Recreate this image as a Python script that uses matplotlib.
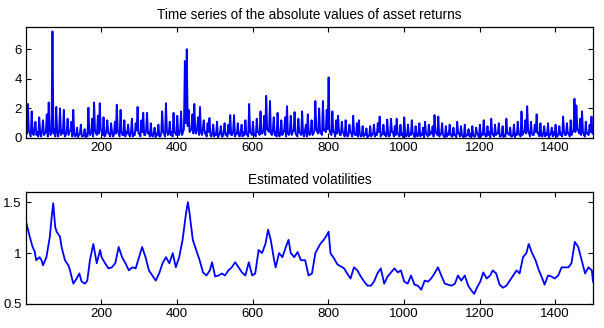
import numpy as np
import matplotlib
matplotlib.use("Agg")
import matplotlib.pyplot as plt

plt.rcParams['font.family'] = ['Liberation Sans', 'DejaVu Sans']

# absolute returns, one value every 5 steps (t = 1, 6, 11, ...)
abs_returns = [
    0.9, 2.3, 0.3, 1.8, 0.2, 1.1, 0.4, 1.4, 0.1, 1.2, 0.3, 1.6, 2.4, 0.2, 7.2, 0.6, 2.1, 0.1, 2.0, 0.5,
    1.9, 0.2, 1.3, 0.4, 1.1, 1.9, 0.1, 0.7, 0.2, 0.9, 0.1, 0.6, 0.3, 2.05, 0.2, 1.3, 2.4, 0.3, 1.5, 2.35,
    0.4, 1.4, 0.2, 1.2, 0.3, 1.0, 0.1, 1.1, 2.25, 0.3, 1.9, 0.2, 1.2, 0.4, 0.9, 0.1, 1.3, 0.3, 1.0, 2.1,
    0.3, 1.2, 1.7, 0.2, 1.7, 0.4, 1.0, 0.1, 0.7, 0.3, 0.9, 0.1, 1.8, 0.3, 2.35, 0.2, 1.1, 0.4, 1.7, 0.3,
    1.5, 0.2, 1.8, 0.4, 5.2, 6.0, 1.9, 0.5, 1.6, 2.3, 0.3, 1.4, 2.1, 0.2, 1.2, 0.4, 1.0, 1.35, 0.1, 0.9,
    0.3, 1.1, 0.2, 0.8, 0.1, 1.0, 0.3, 0.9, 1.55, 0.2, 1.55, 0.3, 1.0, 0.1, 0.9, 0.4, 1.2, 0.2, 2.3, 0.3,
    1.1, 0.2, 1.3, 0.4, 1.8, 0.3, 1.5, 2.85, 0.5, 2.5, 0.2, 1.4, 0.4, 1.7, 0.1, 1.2, 0.3, 1.4, 2.15, 0.2,
    1.5, 0.4, 1.75, 0.2, 1.3, 0.3, 1.8, 0.1, 0.9, 1.6, 0.2, 1.2, 0.3, 2.5, 0.4, 2.0, 0.3, 2.5, 0.6, 1.9,
    4.1, 0.3, 1.8, 0.4, 1.2, 1.5, 0.2, 1.1, 0.3, 1.2, 0.1, 0.9, 0.3, 1.5, 0.2, 1.0, 1.2, 0.1, 0.8, 0.3,
    0.65, 0.1, 0.8, 0.2, 0.9, 0.3, 1.0, 1.45, 0.2, 0.9, 0.3, 1.25, 0.1, 1.3, 0.4, 0.8, 1.3, 0.2, 0.9, 0.3,
    1.4, 0.1, 0.9, 0.3, 1.2, 0.2, 0.8, 0.1, 1.0, 0.3, 0.7, 1.1, 0.2, 0.9, 0.4, 0.8, 1.55, 0.3, 1.45, 0.2,
    1.0, 0.1, 0.8, 0.3, 0.9, 0.1, 0.7, 0.2, 1.1, 0.3, 0.8, 0.1, 0.9, 0.2, 0.6, 0.3, 0.8, 0.1, 0.7, 0.2,
    0.9, 0.3, 1.2, 0.1, 0.8, 0.4, 1.3, 0.2, 0.9, 0.3, 1.0, 0.1, 0.8, 0.2, 1.3, 0.3, 0.7, 0.1, 0.9, 0.3,
    1.1, 0.2, 1.8, 0.4, 1.2, 2.15, 0.3, 1.1, 0.2, 0.9, 1.6, 0.3, 1.0, 0.1, 0.8, 0.3, 1.0, 0.2, 0.7, 0.4,
    0.9, 0.1, 0.8, 0.3, 1.45, 0.2, 1.0, 0.3, 1.2, 0.4, 2.65, 2.2, 0.5, 1.3, 1.8, 0.2, 1.1, 0.3, 0.9, 1.45,
]
# lower edge of the band, read halfway between the values above (t = 3.5, 8.5, ...)
abs_returns_low = [
    0.3, 0.5, 0.1, 0.4, 0.6, 0.2, 0.1, 0.3, 0.5, 0.2, 0.4, 0.1, 0.6, 0.5, 0.3, 0.1, 0.4, 0.5, 0.2, 0.3,
    0.1, 0.4, 0.2, 0.5, 0.1, 0.3, 0.2, 0.05, 0.3, 0.1, 0.2, 0.05, 0.1, 0.3, 0.4, 0.1, 0.5, 0.2, 0.3, 0.6,
    0.2, 0.1, 0.5, 0.3, 0.1, 0.4, 0.2, 0.3, 0.5, 0.1, 0.4, 0.2, 0.1, 0.3, 0.2, 0.4, 0.1, 0.2, 0.5, 0.3,
    0.1, 0.4, 0.2, 0.5, 0.3, 0.1, 0.2, 0.3, 0.05, 0.2, 0.1, 0.3, 0.4, 0.1, 0.5, 0.3, 0.2, 0.1, 0.4, 0.2,
    0.3, 0.5, 0.2, 0.6, 1.0, 0.8, 0.4, 0.6, 0.3, 0.5, 0.7, 0.2, 0.4, 0.6, 0.3, 0.1, 0.4, 0.2, 0.3, 0.1,
    0.2, 0.05, 0.3, 0.1, 0.4, 0.2, 0.1, 0.3, 0.2, 0.4, 0.1, 0.3, 0.2, 0.4, 0.1, 0.2, 0.3, 0.1, 0.4, 0.2,
    0.3, 0.1, 0.4, 0.2, 0.3, 0.5, 0.2, 0.6, 0.4, 0.3, 0.5, 0.2, 0.1, 0.4, 0.3, 0.2, 0.5, 0.1, 0.3, 0.4,
    0.2, 0.5, 0.3, 0.1, 0.4, 0.2, 0.3, 0.5, 0.1, 0.3, 0.4, 0.2, 0.5, 0.6, 0.3, 0.4, 0.2, 0.5, 0.4, 0.6,
    0.5, 0.2, 0.4, 0.1, 0.3, 0.5, 0.2, 0.4, 0.1, 0.3, 0.2, 0.4, 0.1, 0.3, 0.2, 0.1, 0.3, 0.2, 0.1, 0.2,
    0.05, 0.2, 0.1, 0.3, 0.1, 0.2, 0.4, 0.1, 0.3, 0.2, 0.1, 0.3, 0.2, 0.4, 0.1, 0.2, 0.3, 0.1, 0.2, 0.05,
    0.3, 0.2, 0.1, 0.2, 0.3, 0.05, 0.2, 0.3, 0.1, 0.2, 0.05, 0.3, 0.1, 0.2, 0.3, 0.1, 0.4, 0.2, 0.1, 0.3,
    0.2, 0.05, 0.1, 0.2, 0.3, 0.1, 0.2, 0.05, 0.3, 0.1, 0.2, 0.05, 0.1, 0.2, 0.1, 0.05, 0.2, 0.1, 0.3, 0.05,
    0.1, 0.2, 0.3, 0.1, 0.2, 0.05, 0.3, 0.1, 0.2, 0.3, 0.1, 0.2, 0.05, 0.1, 0.3, 0.2, 0.1, 0.2, 0.05, 0.2,
    0.3, 0.1, 0.2, 0.4, 0.3, 0.5, 0.1, 0.3, 0.2, 0.4, 0.3, 0.1, 0.2, 0.3, 0.1, 0.2, 0.05, 0.3, 0.1, 0.2,
    0.1, 0.3, 0.2, 0.1, 0.4, 0.2, 0.3, 0.1, 0.2, 0.5, 0.4, 0.6, 0.3, 0.2, 0.4, 0.1, 0.3, 0.2, 0.4, 0.3,
]
t_returns = np.arange(len(abs_returns)) * 5 + 1

# estimated volatility, read at irregular time points
t_vol = [1, 11, 18, 24, 28, 37, 42, 46, 55, 64, 69, 73, 78, 82, 91, 95, 104, 113, 117, 126,
         135, 142, 148, 157, 163, 170, 179, 188, 197, 201, 210, 219, 228, 237, 246, 255, 264, 273, 282, 291,
         300, 308, 317, 326, 335, 344, 353, 362, 371, 380, 389, 397, 406, 415, 424, 429, 433, 442, 451, 460,
         469, 478, 487, 493, 501, 510, 519, 527, 536, 545, 554, 563, 572, 581, 590, 599, 607, 616, 625, 634,
         641, 648, 657, 661, 670, 679, 688, 695, 701, 710, 719, 728, 739, 748, 757, 766, 779, 788, 797, 801,
         806, 815, 824, 833, 842, 850, 859, 868, 877, 886, 895, 904, 913, 921, 930, 939, 948, 957, 966, 975,
         984, 992, 1001, 1010, 1019, 1028, 1037, 1046, 1055, 1064, 1072, 1081, 1090, 1099, 1108, 1117, 1126, 1135, 1143, 1152,
         1161, 1170, 1179, 1186, 1193, 1202, 1210, 1219, 1228, 1235, 1244, 1253, 1262, 1271, 1280, 1289, 1298, 1306, 1315, 1324,
         1330, 1339, 1348, 1357, 1366, 1372, 1381, 1390, 1399, 1408, 1417, 1426, 1435, 1443, 1452, 1461, 1470, 1479, 1488, 1497,
         1500]
vol = [1.31, 1.16, 1.065, 1.015, 0.93, 0.96, 0.93, 0.88, 0.96, 1.16, 1.36, 1.49, 1.26, 1.21, 1.16, 1.06, 0.93, 0.88, 0.835, 0.70,
       0.75, 0.80, 0.72, 0.70, 0.73, 0.93, 1.09, 0.90, 1.03, 0.96, 0.90, 0.85, 0.86, 0.90, 1.06, 0.96, 0.90, 0.83, 0.86, 0.85,
       0.96, 1.06, 0.96, 0.83, 0.78, 0.73, 0.80, 0.90, 0.96, 0.90, 1.00, 0.86, 0.96, 1.13, 1.39, 1.50, 1.40, 1.13, 1.03, 0.93,
       0.81, 0.78, 0.83, 0.91, 0.77, 0.78, 0.80, 0.78, 0.83, 0.86, 0.91, 0.86, 0.81, 0.78, 0.91, 0.78, 0.80, 1.03, 1.00, 1.09,
       1.23, 1.13, 0.93, 0.86, 1.00, 0.96, 1.06, 1.13, 1.00, 0.96, 1.01, 0.93, 0.93, 0.78, 0.80, 1.00, 1.09, 1.13, 1.18, 1.21,
       1.00, 0.95, 0.89, 0.87, 0.85, 0.80, 0.75, 0.86, 0.83, 0.77, 0.72, 0.68, 0.68, 0.72, 0.80, 0.85, 0.70, 0.77, 0.81, 0.85,
       0.81, 0.83, 0.72, 0.70, 0.78, 0.69, 0.68, 0.64, 0.73, 0.72, 0.75, 0.80, 0.86, 0.78, 0.70, 0.69, 0.68, 0.70, 0.78, 0.73,
       0.78, 0.68, 0.63, 0.60, 0.66, 0.72, 0.81, 0.75, 0.78, 0.83, 0.80, 0.69, 0.66, 0.68, 0.73, 0.78, 0.83, 0.80, 0.96, 1.00,
       1.09, 1.00, 0.93, 0.83, 0.75, 0.69, 0.78, 0.77, 0.75, 0.78, 0.86, 0.86, 0.86, 0.90, 1.11, 1.06, 0.93, 0.80, 0.86, 0.83,
       0.72]

# interleave the band values and its lower edge into one series
t_all = np.column_stack([t_returns, t_returns + 2.5]).ravel()
r_all = np.column_stack([abs_returns, abs_returns_low]).ravel()
keep = t_all <= 1500
t_all, r_all = t_all[keep], r_all[keep]

fig = plt.figure(figsize=(6.04, 3.28), dpi=100)
ax1 = fig.add_axes([26 / 604, 190 / 328, 567 / 604, 111 / 328])
ax2 = fig.add_axes([26 / 604, 24 / 328, 567 / 604, 112 / 328])

ax1.plot(t_all, r_all, color='blue', lw=1.35)
ax1.set_xlim(1, 1500)
ax1.set_ylim(0, 7.5)
ax1.set_yticks([0, 2, 4, 6])
ax1.set_title('Time series of the absolute values of asset returns', fontsize=9.8, pad=6)

ax2.plot(t_vol, vol, color='blue', lw=1.3)
ax2.set_xlim(1, 1500)
ax2.set_ylim(0.5, 1.6)
ax2.set_yticks([0.5, 1, 1.5])
ax2.set_yticklabels(['0.5', '1', '1.5'])
ax2.set_title('Estimated volatilities', fontsize=9.8, pad=6)

for ax in (ax1, ax2):
    ax.set_xticks([200, 400, 600, 800, 1000, 1200, 1400])
    ax.tick_params(direction='in', top=True, right=True, length=3.5, width=0.8, labelsize=9.5, pad=3)
    for s in ax.spines.values():
        s.set_linewidth(0.9)

fig.savefig('out.png', dpi=100)
